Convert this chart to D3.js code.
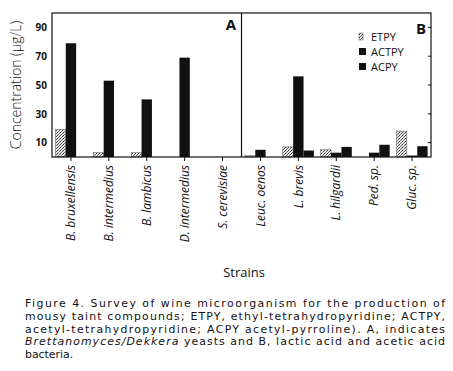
<!DOCTYPE html>
<html><head><meta charset="utf-8">
<script src="https://cdn.jsdelivr.net/npm/d3@7"></script>
<style>
html,body{margin:0;padding:0;background:#fff;}
svg text{font-family:"Open Sans","DejaVu Sans",sans-serif;fill:#111;}
svg text.cap{font-family:"DejaVu Sans",sans-serif;}
</style></head>
<body><svg id="c" width="453" height="371"></svg>
<script>
const strains = ["B. bruxellensis","B. intermedius","B. lambicus","D. intermedius","S. cerevisiae",
                 "Leuc. oenos","L. brevis","L. hilgardii","Ped. sp.","Gluc. sp."];
const seriesNames = ["ETPY","ACTPY","ACPY"];
const etpy  = [19, 3, 3, 0, 0, 1, 7, 5, 0, 18];
const actpy = [79, 53, 40, 69, 0, 5, 56, 3, 3, 1];
const acpy  = [0, 0, 0, 0, 0, 0, 4.5, 7, 8.5, 7.5];
const yTicks = [10, 30, 50, 70, 90];
const panelLabels = ["A","B"];
const captionLines = [
  "Figure 4. Survey of wine microorganism for the production of",
  "mousy taint compounds; ETPY, ethyl-tetrahydropyridine; ACTPY,",
  "acetyl-tetrahydropyridine; ACPY acetyl-pyrroline). A, indicates",
  "<i>Brettanomyces/Dekkera</i> yeasts and B, lactic acid and acetic acid",
  "bacteria."
];

const svg = d3.select("#c");
const L = 52, R = 431, T = 13, B = 157;
const values = [etpy, actpy, acpy];

// stipple pattern for ETPY
const defs = svg.append("defs");
const pat = defs.append("pattern").attr("id","stip").attr("width",3).attr("height",3)
  .attr("patternUnits","userSpaceOnUse");
pat.append("rect").attr("width",3).attr("height",3).attr("fill","#e4e4e4");
pat.append("rect").attr("x",0).attr("y",0).attr("width",1).attr("height",1).attr("fill","#333");
pat.append("rect").attr("x",2).attr("y",1).attr("width",1).attr("height",1).attr("fill","#555");
pat.append("rect").attr("x",1).attr("y",2).attr("width",1).attr("height",1).attr("fill","#777");
const fills = ["url(#stip)", "#111", "#111"];

const x0 = d3.scaleBand().domain(strains).range([L, R]).padding(0);
const bw = x0.bandwidth();
const x1 = d3.scaleBand().domain(seriesNames).range([bw*0.09, bw*0.91]).padding(0);
const y = d3.scaleLinear().domain([0, 100]).range([B, T]);

// bars
seriesNames.forEach((s, si) => {
  svg.append("g").selectAll("rect").data(strains).join("rect")
    .attr("x", (d) => x0(d) + x1(s))
    .attr("width", x1.bandwidth())
    .attr("y", (d, i) => y(values[si][i]))
    .attr("height", (d, i) => y(0) - y(values[si][i]))
    .attr("fill", fills[si])
    .attr("stroke", si === 0 ? "#555" : "none")
    .attr("stroke-width", si === 0 ? 0.5 : 0)
    .style("display", (d, i) => values[si][i] > 0 ? null : "none");
});

// frame
svg.append("rect").attr("x", L).attr("y", T).attr("width", R - L).attr("height", B - T)
  .attr("fill","none").attr("stroke","#111").attr("stroke-width",1.2);
const divX = x0(strains[5]);
svg.append("line").attr("x1", divX).attr("x2", divX).attr("y1", T).attr("y2", B)
  .attr("stroke","#111").attr("stroke-width",1.2);

// y axis
const yAxis = d3.axisLeft(y).tickValues(yTicks).tickSize(0).tickPadding(5);
const gy = svg.append("g").attr("transform", `translate(${L},0)`).call(yAxis);
gy.select(".domain").remove();
gy.selectAll("text").style("font-size","10px").style("font-weight","bold").attr("fill","#111");
// right ticks
svg.append("g").selectAll("line").data(yTicks).join("line")
  .attr("x1", R).attr("x2", R - 3).attr("y1", d => y(d)).attr("y2", d => y(d))
  .attr("stroke","#111");

// x axis
const xAxis = d3.axisBottom(x0).tickSize(4).tickPadding(4);
const gx = svg.append("g").attr("transform", `translate(0,${B})`).call(xAxis);
gx.select(".domain").remove();
gx.selectAll("line").attr("stroke","#111");
gx.selectAll("text")
  .attr("transform","rotate(-90)")
  .attr("x", -8).attr("y", 0).attr("dy","0.35em")
  .attr("text-anchor","end")
  .style("font-size","12px").style("font-style","italic").attr("fill","#111");

// panel letters
svg.append("text").attr("x", 236).attr("y", 30).attr("text-anchor","end")
  .style("font-size","15px").style("font-weight","bold").text(panelLabels[0]);
svg.append("text").attr("x", 426).attr("y", 34).attr("text-anchor","end")
  .style("font-size","15px").style("font-weight","bold").text(panelLabels[1]);

// legend
const lg = svg.append("g").attr("transform","translate(359,37)");
seriesNames.forEach((s, i) => {
  const g = lg.append("g").attr("transform", `translate(0,${i*15})`);
  g.append("rect").attr("x", 0).attr("y", -4).attr("width", i===0?4:7).attr("height", 7)
    .attr("fill", fills[i]).attr("stroke", i===0 ? "#555":"none").attr("stroke-width",0.5);
  g.append("text").attr("x", 12).attr("y", 0).attr("dy","0.35em")
    .style("font-size","11px").text(s);
});

// axis titles
svg.append("text").attr("transform", `translate(21,${(T+B)/2}) rotate(-90)`)
  .attr("text-anchor","middle").style("font-size","14px").style("font-weight","300")
  .text("Concentration (µg/L)");
svg.append("text").attr("x", 244).attr("y", 277).attr("text-anchor","middle")
  .style("font-size","13px").text("Strains");

// caption
const cap = svg.append("g");
captionLines.forEach((line, i) => {
  const t = cap.append("text").attr("class","cap").attr("x", 25).attr("y", 307 + i*12.8)
    .style("font-size","10.9px");
  if (i < captionLines.length - 1) t.attr("textLength", 420).attr("lengthAdjust","spacing");
  const parts = line.split(/(<i>.*?<\/i>)/).filter(p => p.length);
  parts.forEach(p => {
    const m = p.match(/^<i>(.*)<\/i>$/);
    t.append("tspan").style("font-style", m ? "italic" : "normal").text(m ? m[1] : p);
  });
});
</script></body></html>
